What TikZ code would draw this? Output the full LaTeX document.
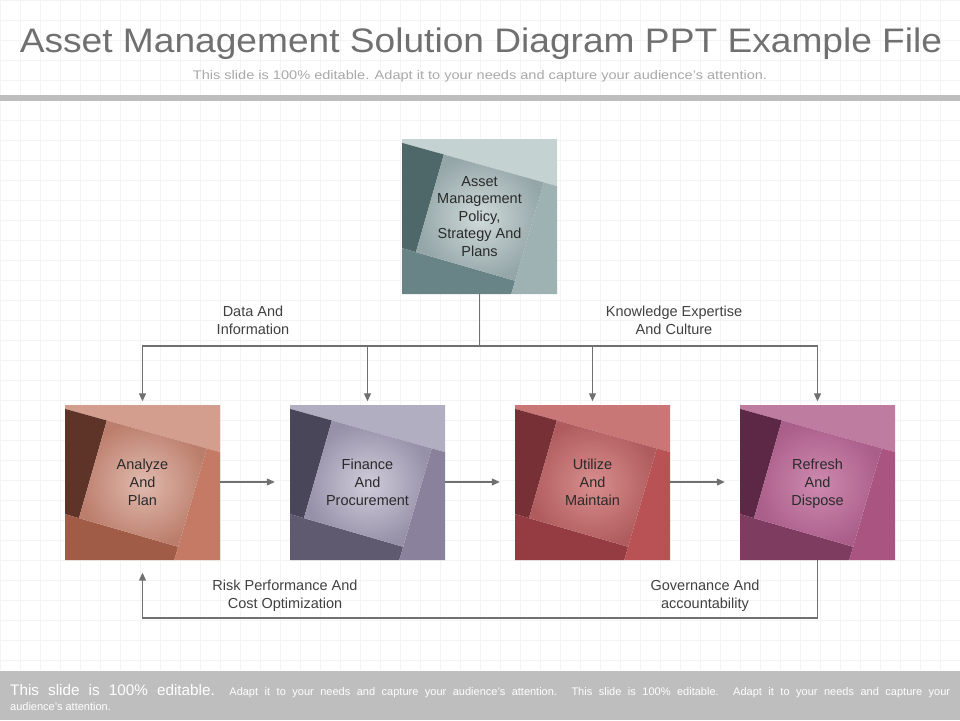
\documentclass[tikz,border=0pt]{standalone}
\usepackage{fontspec}
\setmainfont{Liberation Sans}
\usetikzlibrary{arrows.meta,calc,positioning}

\definecolor{titlegray}{RGB}{112,112,112}
\definecolor{subgray}{RGB}{168,168,168}
\definecolor{bargray}{RGB}{190,190,190}
\definecolor{gridgray}{RGB}{244,244,244}
\definecolor{linkgray}{RGB}{112,112,112}
\definecolor{tagtext}{RGB}{64,64,64}
\definecolor{tiletext}{RGB}{42,42,42}
% tile colours: top, left, bottom, right, glow (centre), core (edge of centre)
\definecolor{policytop}{RGB}{196,210,210}
\definecolor{policyleft}{RGB}{78,104,106}
\definecolor{policybottom}{RGB}{104,132,134}
\definecolor{policyright}{RGB}{158,178,180}
\definecolor{policyglow}{RGB}{208,218,218}
\definecolor{policycore}{RGB}{148,166,168}
\definecolor{plantop}{RGB}{212,158,143}
\definecolor{planleft}{RGB}{95,52,40}
\definecolor{planbottom}{RGB}{161,92,72}
\definecolor{planright}{RGB}{196,122,100}
\definecolor{planglow}{RGB}{224,186,174}
\definecolor{plancore}{RGB}{188,126,108}
\definecolor{financetop}{RGB}{178,174,194}
\definecolor{financeleft}{RGB}{74,70,90}
\definecolor{financebottom}{RGB}{95,90,112}
\definecolor{financeright}{RGB}{138,130,156}
\definecolor{financeglow}{RGB}{208,204,218}
\definecolor{financecore}{RGB}{150,144,168}
\definecolor{utilizetop}{RGB}{200,118,118}
\definecolor{utilizeleft}{RGB}{118,48,54}
\definecolor{utilizebottom}{RGB}{148,60,66}
\definecolor{utilizeright}{RGB}{184,82,84}
\definecolor{utilizeglow}{RGB}{216,142,142}
\definecolor{utilizecore}{RGB}{176,92,94}
\definecolor{refreshtop}{RGB}{190,124,160}
\definecolor{refreshleft}{RGB}{92,40,70}
\definecolor{refreshbottom}{RGB}{126,60,96}
\definecolor{refreshright}{RGB}{170,84,130}
\definecolor{refreshglow}{RGB}{206,138,176}
\definecolor{refreshcore}{RGB}{170,94,138}

\tikzset{
    link/.style={draw=linkgray, line width=1.2pt},
    flow/.style={link, -{Triangle[length=8pt,width=7pt]}},
    tile/.style={minimum size=155pt, inner sep=0pt, align=center, text depth=0pt,
        font=\fontsize{14.5}{18}\selectfont, text=tiletext},
    tag/.style={align=center, font=\fontsize{14.5}{18}\selectfont, text=tagtext}
}

% pinwheel square: #1 top left corner, #2 colour prefix
\newcommand{\pinwheel}[2]{%
    \begin{scope}[shift={#1}, x=155pt, y=-155pt]
        \fill[#2top] (0,0) -- (1,0) -- (1,0.304) -- (0,0.025) -- cycle;
        \fill[#2left] (0,0.025) -- (0.27,0.10) -- (0.09,0.73) -- (0,0.704) -- cycle;
        \fill[#2bottom] (0,0.704) -- (0.73,0.915) -- (0.705,1) -- (0,1) -- cycle;
        \fill[#2right] (1,0.304) -- (1,1) -- (0.705,1) -- (0.73,0.915) -- (0.915,0.28) -- cycle;
        \shade[inner color=#2glow, outer color=#2core] (0.27,0.10) -- (0.915,0.28) -- (0.73,0.915) -- (0.09,0.73) -- cycle;
    \end{scope}}

\begin{document}
\begin{tikzpicture}[x=1pt, y=-1pt]
    \useasboundingbox (0,0) rectangle (960,720);
    \draw[gridgray, line width=0.6pt, step=20pt] (0,0) grid (960,670);

    % heading
    \node[anchor=base, text=titlegray, font=\fontsize{34}{34}\selectfont] (title) at (481,52)
        {\scalebox{1.092}[1]{Asset Management Solution Diagram PPT Example File}};
    \node[anchor=base, text=subgray, font=\fontsize{12.5}{14}\selectfont] (subtitle) at (480,79)
        {\scalebox{1.165}[1]{This slide is 100\% editable. Adapt it to your needs and capture your audience's attention.}};
    \fill[bargray] (0,95) rectangle (960,101);

    % tiles
    \pinwheel{(402,139)}{policy}
    \pinwheel{(65,405)}{plan}
    \pinwheel{(290,405)}{finance}
    \pinwheel{(515,405)}{utilize}
    \pinwheel{(740,405)}{refresh}

    \node[tile, font=\fontsize{14.5}{17.5}\selectfont] (policy) at (479.5,216.5)
        {Asset\\Management\\Policy,\\Strategy And\\Plans};
    \node[tile] (plan) at (142.5,482) {Analyze\\And\\Plan};
    \node[tile] (finance) at (367.5,482) {Finance\\And\\Procurement};
    \node[tile] (utilize) at (592.5,482) {Utilize\\And\\Maintain};
    \node[tile] (refresh) at (817.5,482) {Refresh\\And\\Dispose};

    % connectors
    \coordinate (split) at (479.5,346);
    \draw[link] (policy.south) -- (split);
    \draw[flow, shorten >=3pt] (split) -| (plan.north);
    \draw[flow, shorten >=3pt] (split) -| (finance.north);
    \draw[flow, shorten >=3pt] (split) -| (utilize.north);
    \draw[flow, shorten >=3pt] (split) -| (refresh.north);

    \draw[flow, shorten >=15pt] (plan) -- (finance);
    \draw[flow, shorten >=15pt] (finance) -- (utilize);
    \draw[flow, shorten >=15pt] (utilize) -- (refresh);

    \coordinate (loop) at (817.5,618);
    \draw[flow, shorten >=13pt] (refresh.south) -- (loop) -| (plan.south);

    % labels
    \node[tag] (data) at (253,320) {Data And\\Information};
    \node[tag] (knowledge) at (674,320) {Knowledge Expertise\\And Culture};
    \node[tag] (risk) at (285,596) {Risk Performance And\\Cost Optimization};
    \node[tag] (governance) at (705,596) {Governance And\\accountability};

    % footer
    \fill[bargray] (0,671) rectangle (960,720);
    \node[anchor=north west, inner sep=0pt, text width=940pt, align=justify, text=white,
          font=\fontsize{11}{15}\selectfont] (footer) at (10,684)
        {{\fontsize{15.3}{15}\selectfont This slide is 100\% editable.} Adapt it to your needs and capture your audience's attention. This slide is 100\% editable. Adapt it to your needs and capture your\linebreak audience's attention.};
\end{tikzpicture}
\end{document}
